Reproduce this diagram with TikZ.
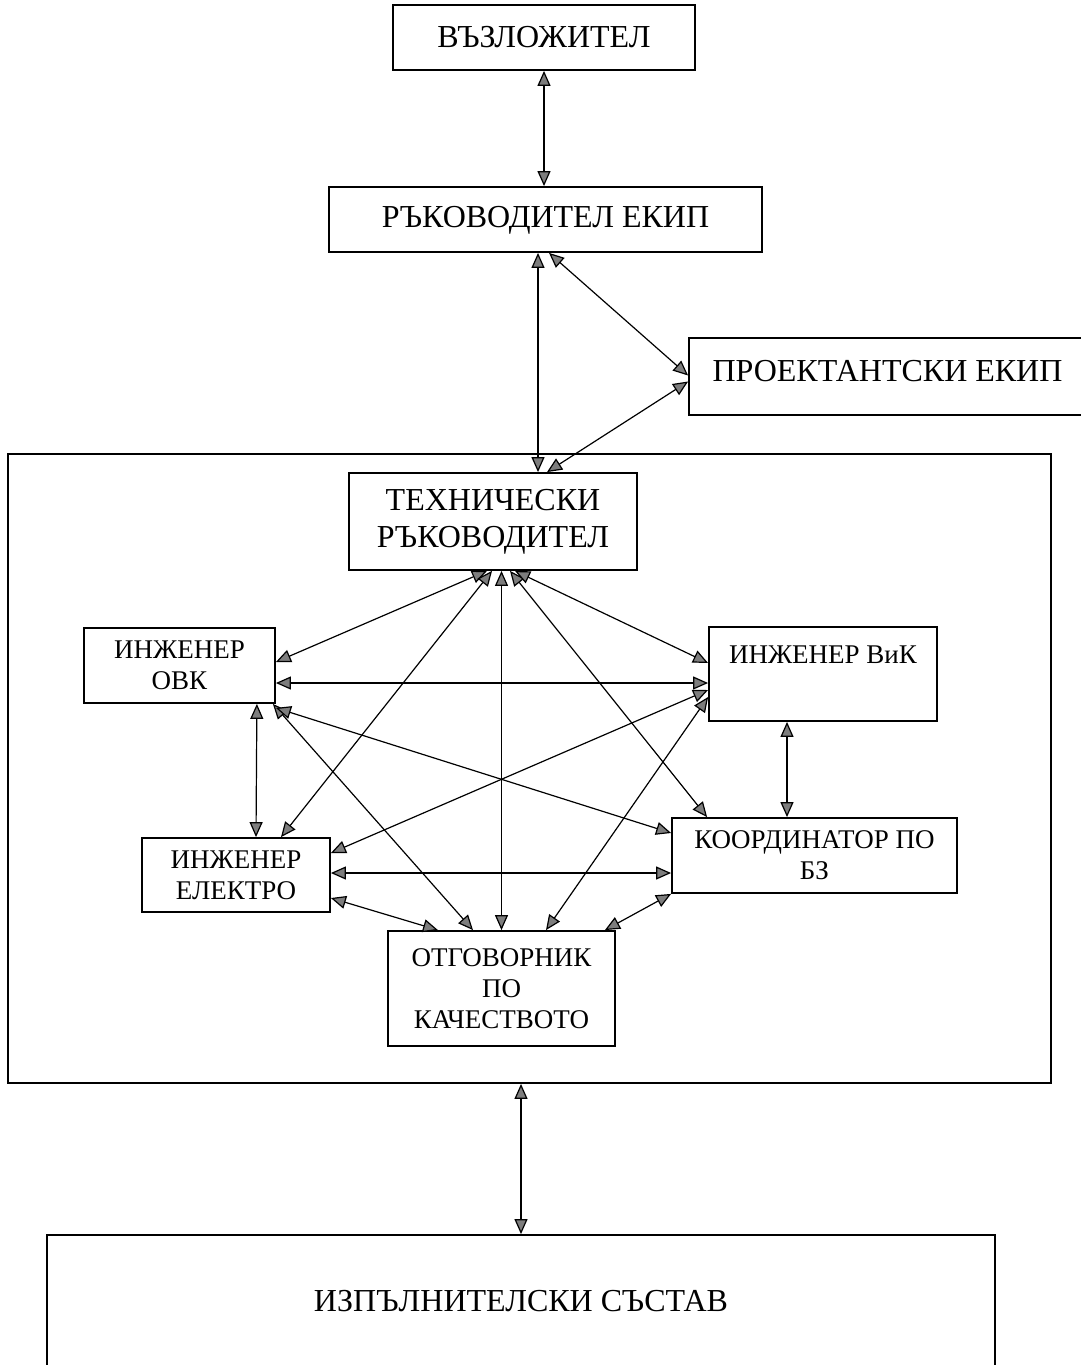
\documentclass[tikz,border=0pt]{standalone}
\usepackage{fontspec}
\setmainfont{Liberation Serif}
\usetikzlibrary{calc, arrows.meta}
\definecolor{headgrey}{RGB}{125,125,125}
\tikzset{
    orgbox/.style={draw=black, line width=0.9pt, inner sep=0pt, align=center, font=\fontsize{16}{18.5}\selectfont},
    subbox/.style={draw=black, line width=0.9pt, inner sep=0pt, align=center, font=\fontsize{13.5}{15.5}\selectfont},
    teamframe/.style={draw=black, line width=0.9pt, inner sep=0pt},
    linkarrow/.style={{Triangle[length=7.5pt,width=6.5pt,fill=headgrey]}-{Triangle[length=7.5pt,width=6.5pt,fill=headgrey]}, line width=0.6pt}
}

\begin{document}
\begin{tikzpicture}[x=0.5pt,y=-0.5pt]
            \useasboundingbox (0,0) rectangle (1081,1365);
            \node[teamframe, minimum width=521.5pt, minimum height=314.5pt] (team) at (529.5,768.5) {};
            \node[orgbox, minimum width=151pt, minimum height=32.5pt] (vaz) at (544,37.5) {ВЪЗЛОЖИТЕЛ};
            \node[orgbox, minimum width=216.5pt, minimum height=32.5pt, text height=11pt] (rak) at (545.5,219.5) {РЪКОВОДИТЕЛ ЕКИП};
            \node[orgbox, minimum width=210.5pt, minimum height=38.5pt, text height=11pt, text depth=6pt] (proekt) at (899.5,376.5) {ПРОЕКТАНТСКИ ЕКИП\hspace*{12pt}};
            \node[orgbox, minimum width=144pt, minimum height=48.5pt] (tech) at (493,521.5) {ТЕХНИЧЕСКИ\\РЪКОВОДИТЕЛ};
            \node[subbox, minimum width=95.5pt, minimum height=37.5pt] (ovk) at (179.5,665.5) {ИНЖЕНЕР\\ОВК};
            \node[subbox, minimum width=114pt, minimum height=47pt, text height=9pt, text depth=20pt] (vik) at (823,674) {ИНЖЕНЕР ВиК};
            \node[subbox, minimum width=94pt, minimum height=37pt] (elektro) at (236,875) {ИНЖЕНЕР\\ЕЛЕКТРО};
            \node[subbox, minimum width=142.5pt, minimum height=37.5pt] (koord) at (814.5,855.5) {КООРДИНАТОР ПО\\БЗ};
            \node[subbox, minimum width=113.5pt, minimum height=57.5pt] (otg) at (501.5,988.5) {ОТГОВОРНИК\\ПО\\КАЧЕСТВОТО};
            \node[orgbox, minimum width=474pt, minimum height=66.5pt] (izp) at (521,1301.5) {ИЗПЪЛНИТЕЛСКИ СЪСТАВ};
            \draw[linkarrow] (vaz.south) -- (vaz.south |- rak.north);
            \draw[linkarrow] ($(rak.south)+(-7.5,0)$) -- ($(tech.north)+(45,0)$);
            \draw[linkarrow] ($(rak.south)+(3.5,0)$) -- ($(proekt.west)+(0,-1)$);
            \draw[linkarrow] ($(proekt.west)+(0,5)$) -- ($(tech.north)+(54,0)$);
            \draw[linkarrow] ($(tech.south)+(-6,0)$) -- ($(ovk.east)+(0,-3.5)$);
            \draw[linkarrow] ($(tech.south)+(-1,0)$) -- ($(elektro.north)+(45,0)$);
            \draw[linkarrow] ($(tech.south)+(8.5,0)$) -- (otg.north);
            \draw[linkarrow] ($(tech.south)+(17,0)$) -- ($(koord.north west)+(36,0)$);
            \draw[linkarrow] ($(tech.south)+(22,0)$) -- ($(vik.west)+(0,-11)$);
            \draw[linkarrow] ($(ovk.east)+(0,17.5)$) -- ($(vik.west)+(0,9)$);
            \draw[linkarrow] ($(ovk.south east)+(-19,0)$) -- ($(elektro.north)+(20,0)$);
            \draw[linkarrow] ($(ovk.south east)+(-3,0)$) -- ($(otg.north)+(-28.5,0)$);
            \draw[linkarrow] ($(ovk.south east)+(0,4)$) -- ($(koord.west)+(0,-22.5)$);
            \draw[linkarrow] ($(vik.west)+(0,16)$) -- ($(elektro.east)+(0,-22)$);
            \draw[linkarrow] ($(vik.west)+(0,23)$) -- ($(otg.north)+(44.5,0)$);
            \draw[linkarrow] ($(vik.south)+(-36,0)$) -- ($(koord.north)+(-27.5,0)$);
            \draw[linkarrow] ($(elektro.east)+(0,-2)$) -- ($(koord.west)+(0,17.5)$);
            \draw[linkarrow] ($(elektro.east)+(0,23)$) -- ($(otg.north)+(-63.5,0)$);
            \draw[linkarrow] (koord.south west) -- ($(otg.north east)+(-11,0)$);
            \draw[linkarrow] (izp.north |- team.south) -- (izp.north);
        \end{tikzpicture}
\end{document}
